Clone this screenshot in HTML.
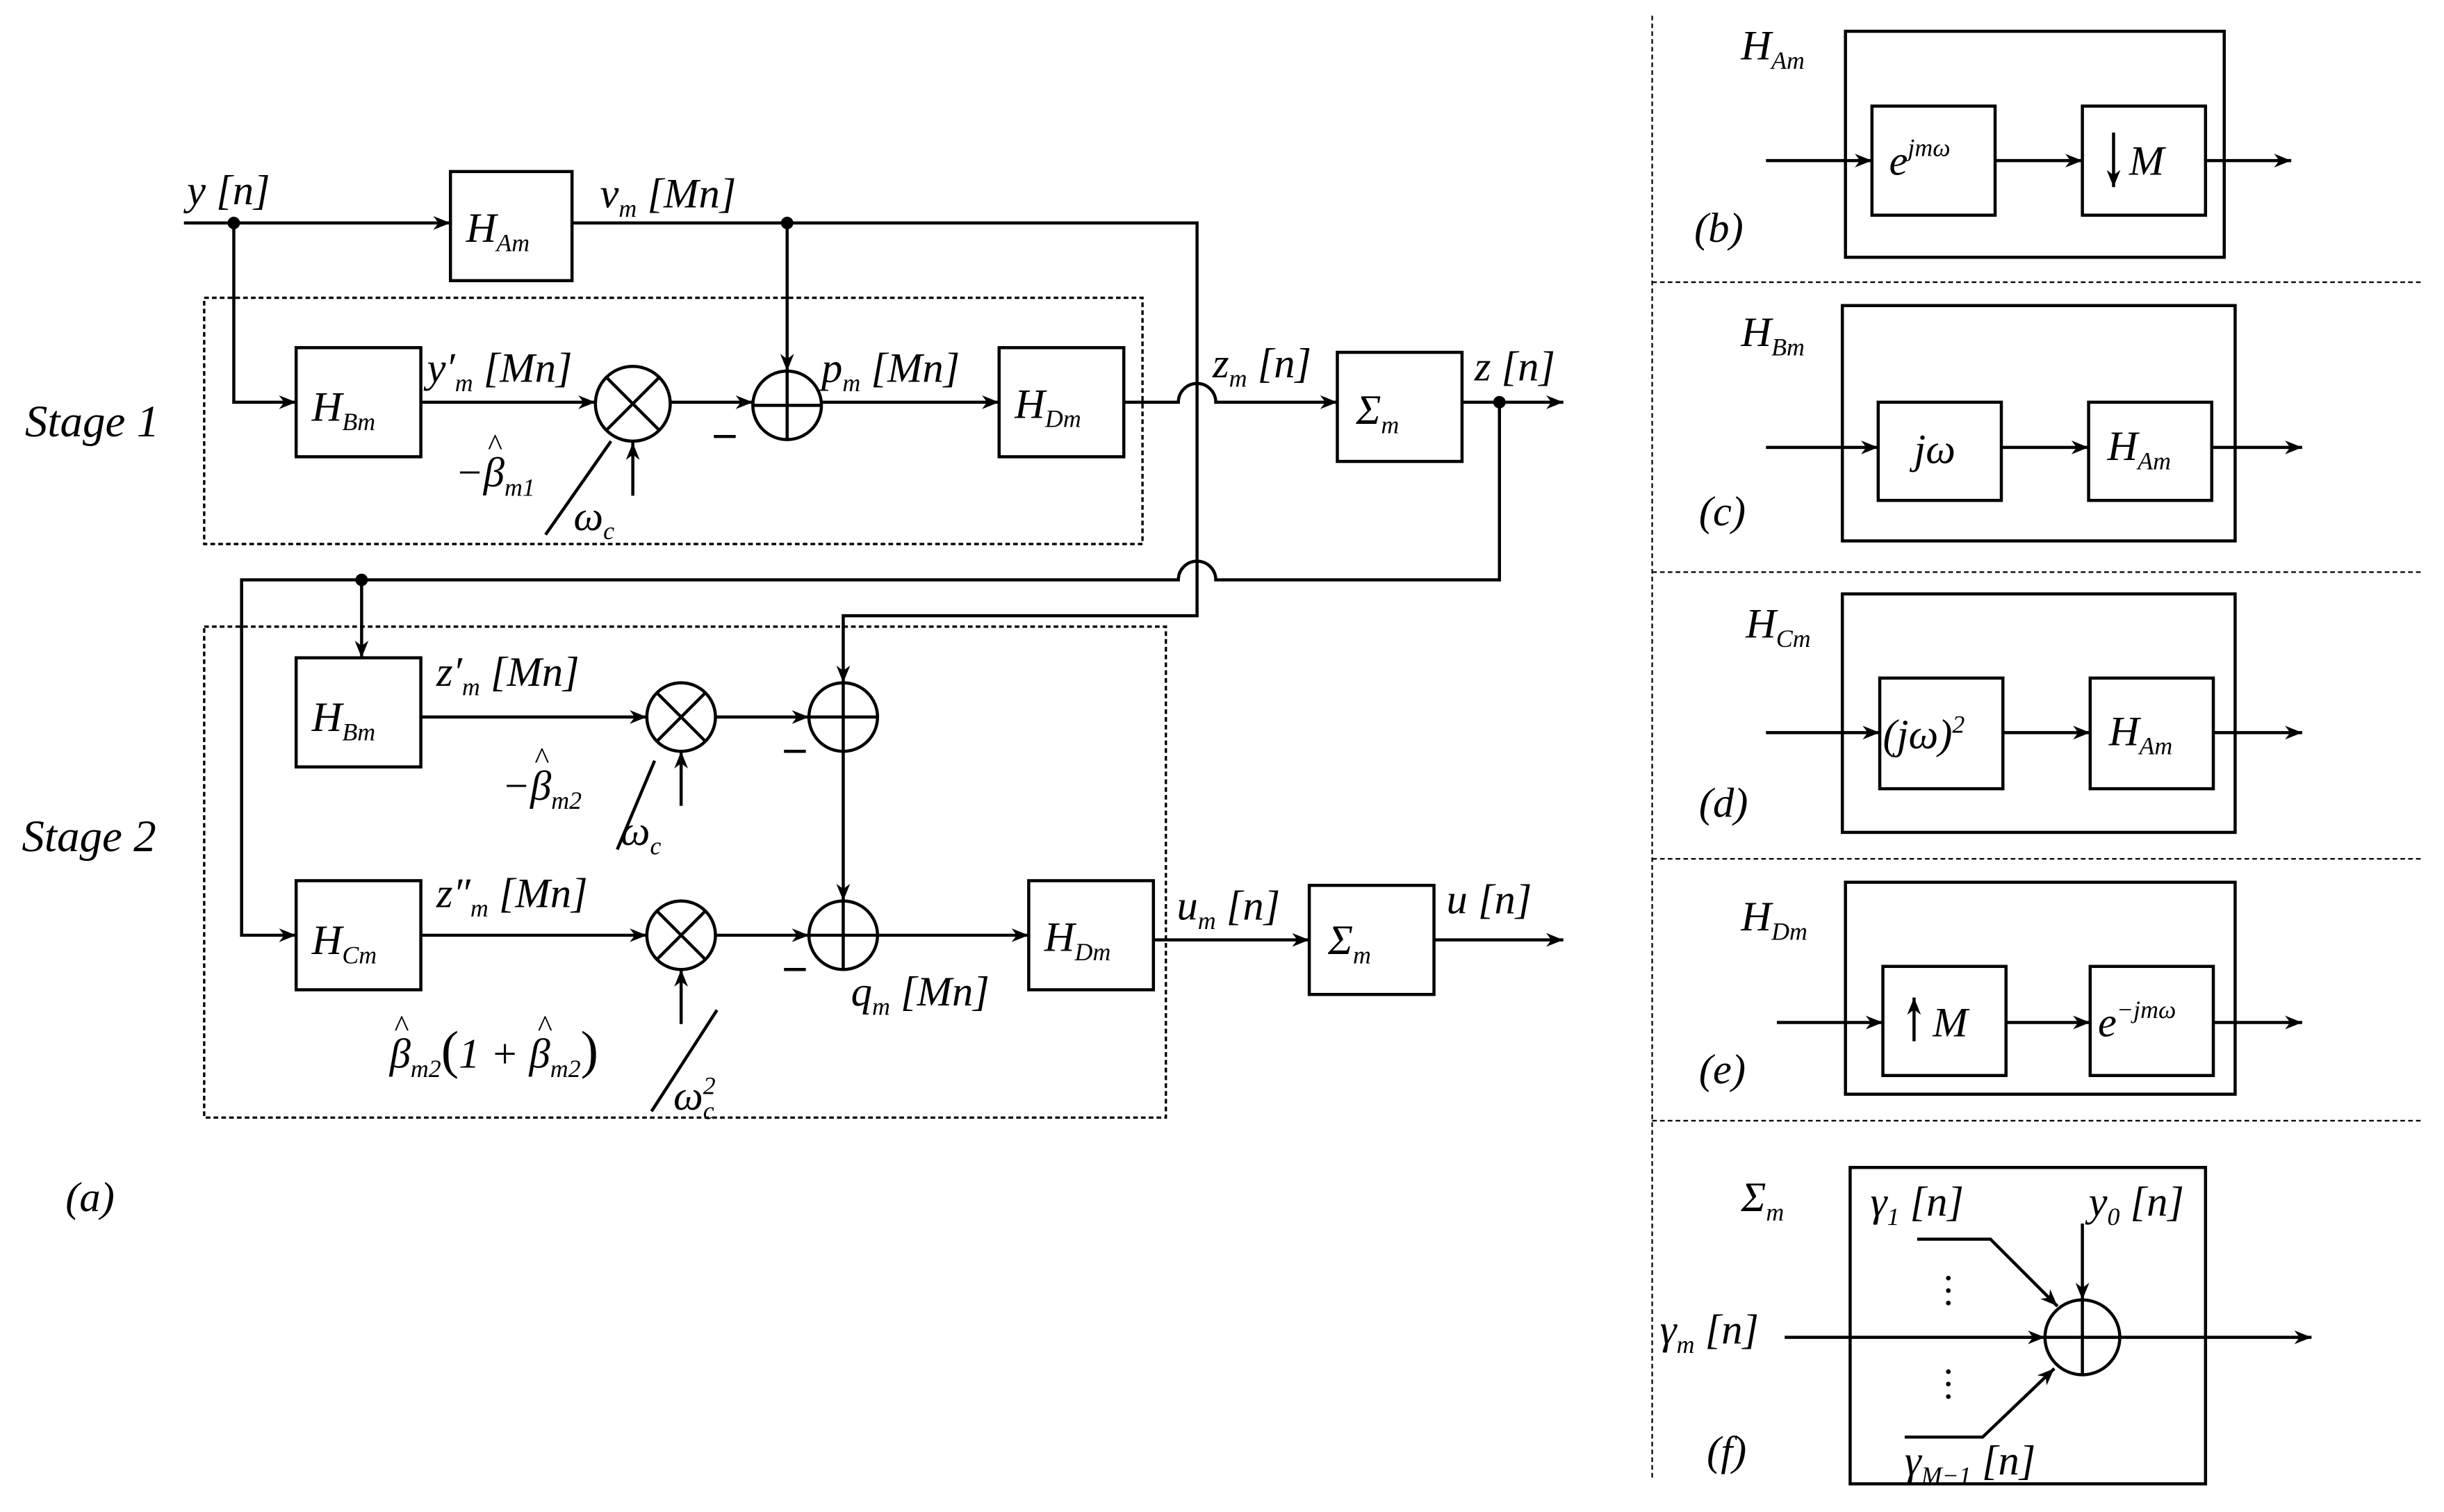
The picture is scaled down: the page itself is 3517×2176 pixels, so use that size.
<!DOCTYPE html>
<html><head><meta charset="utf-8"><style>
html,body{margin:0;padding:0;background:#fff;}
svg{display:block;}
text{font-family:"Liberation Serif","DejaVu Serif",serif;font-style:italic;fill:#000;}
.m{font-size:27px}
.sub{font-size:16px}
.h{font-size:20px;font-style:normal}
</style></head><body>
<svg width="3517" height="2176" viewBox="0 0 1568 970" xmlns="http://www.w3.org/2000/svg">
<defs>
<marker id="a" viewBox="0 0 10 10" refX="10" refY="5" markerWidth="11" markerHeight="11" markerUnits="userSpaceOnUse" orient="auto"><path d="M0,1 L10,5 L0,9 L3,5 z" fill="#000"/></marker>
</defs>
<g stroke="#000" stroke-width="2" fill="none">
<rect x="131" y="191" width="602" height="158" stroke-dasharray="3,2" stroke-width="1.5"/>
<rect x="131" y="402" width="617" height="315" stroke-dasharray="3,2" stroke-width="1.5"/>
<rect x="289" y="110" width="78" height="70"/>
<rect x="190" y="223" width="80" height="70"/>
<rect x="641" y="223" width="80" height="70"/>
<rect x="858" y="226" width="80" height="70"/>
<rect x="190" y="422" width="80" height="70"/>
<rect x="190" y="565" width="80" height="70"/>
<rect x="660" y="565" width="80" height="70"/>
<rect x="840" y="568" width="80" height="70"/>
<circle cx="406" cy="259" r="24"/>
<path d="M389,242 L423,276 M423,242 L389,276"/>
<circle cx="505" cy="260" r="22"/>
<path d="M483,260 H527 M505,238 V282"/>
<circle cx="437" cy="460" r="22"/>
<path d="M421,444 L453,476 M453,444 L421,476"/>
<circle cx="541" cy="460" r="22"/>
<path d="M519,460 H563 M541,438 V482"/>
<circle cx="437" cy="600" r="22"/>
<path d="M421,584 L453,616 M453,584 L421,616"/>
<circle cx="541" cy="600" r="22"/>
<path d="M519,600 H563 M541,578 V622"/>
<path d="M118,143 H289" marker-end="url(#a)"/>
<path d="M150,143 V258 H190" marker-end="url(#a)"/>
<path d="M367,143 H768 V395 H541 V438" marker-end="url(#a)"/>
<path d="M505,143 V238" marker-end="url(#a)"/>
<path d="M270,258 H382" marker-end="url(#a)"/>
<path d="M430,258 H483" marker-end="url(#a)"/>
<path d="M527,258 H641" marker-end="url(#a)"/>
<path d="M721,258 H756 A12,12 0 0 1 780,258 H858" marker-end="url(#a)"/>
<path d="M938,258 H1003" marker-end="url(#a)"/>
<path d="M406,318 V284" marker-end="url(#a)"/>
<path d="M350,343 L392,283"/>
<path d="M458,280 H472"/>
<path d="M962,258 V372 H780 A12,12 0 0 0 756,372 H155 V600 H190" marker-end="url(#a)"/>
<path d="M232,372 V422" marker-end="url(#a)"/>
<path d="M270,460 H415" marker-end="url(#a)"/>
<path d="M459,460 H519" marker-end="url(#a)"/>
<path d="M270,600 H415" marker-end="url(#a)"/>
<path d="M459,600 H519" marker-end="url(#a)"/>
<path d="M541,482 V578" marker-end="url(#a)"/>
<path d="M563,600 H660" marker-end="url(#a)"/>
<path d="M740,603 H840" marker-end="url(#a)"/>
<path d="M920,603 H1003" marker-end="url(#a)"/>
<path d="M437,517 V482" marker-end="url(#a)"/>
<path d="M437,657 V622" marker-end="url(#a)"/>
<path d="M396,545 L420,488"/>
<path d="M418,713 L460,648"/>
<path d="M503,482 H517 M503,622 H517"/>
</g>
<g fill="#000">
<circle cx="150" cy="143" r="4"/><circle cx="505" cy="143" r="4"/>
<circle cx="962" cy="258" r="4"/><circle cx="232" cy="372" r="4"/>
</g>
<g stroke="#000" stroke-width="1" stroke-dasharray="3,2" fill="none">
<path d="M1060,10 V950"/>
<path d="M1060,181 H1555 M1060,367 H1555 M1060,551 H1555 M1060,719 H1555"/>
</g>
<g stroke="#000" stroke-width="2" fill="none">
<rect x="1184" y="20" width="243" height="145"/>
<rect x="1201" y="68" width="79" height="70"/>
<rect x="1336" y="68" width="79" height="70"/>
<path d="M1133,103 H1201" marker-end="url(#a)"/><path d="M1280,103 H1336" marker-end="url(#a)"/><path d="M1415,103 H1470" marker-end="url(#a)"/>
<path d="M1356,85 V120" marker-end="url(#a)"/>
<rect x="1182" y="196" width="252" height="151"/>
<rect x="1205" y="258" width="79" height="63"/>
<rect x="1340" y="258" width="79" height="63"/>
<path d="M1133,287 H1205" marker-end="url(#a)"/><path d="M1284,287 H1340" marker-end="url(#a)"/><path d="M1419,287 H1477" marker-end="url(#a)"/>
<rect x="1182" y="381" width="252" height="153"/>
<rect x="1206" y="435" width="79" height="71"/>
<rect x="1341" y="435" width="79" height="71"/>
<path d="M1133,470 H1206" marker-end="url(#a)"/><path d="M1285,470 H1341" marker-end="url(#a)"/><path d="M1420,470 H1477" marker-end="url(#a)"/>
<rect x="1184" y="566" width="250" height="136"/>
<rect x="1208" y="620" width="79" height="70"/>
<rect x="1341" y="620" width="79" height="70"/>
<path d="M1140,656 H1208" marker-end="url(#a)"/><path d="M1287,656 H1341" marker-end="url(#a)"/><path d="M1420,656 H1477" marker-end="url(#a)"/>
<path d="M1228,668 V640" marker-end="url(#a)"/>
<rect x="1187" y="749" width="228" height="203"/>
<circle cx="1336" cy="858" r="24"/>
<path d="M1312,858 H1360 M1336,834 V882"/>
<path d="M1145,858 H1312" marker-end="url(#a)"/>
<path d="M1360,858 H1483" marker-end="url(#a)"/>
<path d="M1336,785 V834" marker-end="url(#a)"/>
<path d="M1230,795 H1277 L1320,838" marker-end="url(#a)"/>
<path d="M1222,922 H1272 L1318,878" marker-end="url(#a)"/>
</g>
<g fill="#000">
<circle cx="1250" cy="820" r="1.5"/><circle cx="1250" cy="828" r="1.5"/><circle cx="1250" cy="836" r="1.5"/>
<circle cx="1250" cy="880" r="1.5"/><circle cx="1250" cy="888" r="1.5"/><circle cx="1250" cy="896" r="1.5"/>
</g>
<text class="m" x="120" y="131">y [n]</text>
<text class="m" x="299" y="155">H<tspan class="sub" dy="6">Am</tspan></text>
<text class="m" x="385" y="133">v<tspan class="sub" dy="6">m</tspan><tspan dy="-6"> [Mn]</tspan></text>
<text class="m" x="200" y="270">H<tspan class="sub" dy="6">Bm</tspan></text>
<text class="m" x="274" y="245">y′<tspan class="sub" dy="6">m</tspan><tspan dy="-6"> [Mn]</tspan></text>
<text class="m" x="527" y="245">p<tspan class="sub" dy="6">m</tspan><tspan dy="-6"> [Mn]</tspan></text>
<text class="m" x="651" y="268">H<tspan class="sub" dy="6">Dm</tspan></text>
<text class="m" x="778" y="242">z<tspan class="sub" dy="6">m</tspan><tspan dy="-6"> [n]</tspan></text>
<text class="m" x="870" y="272">Σ<tspan class="sub" dy="6">m</tspan></text>
<text class="m" x="946" y="244">z [n]</text>
<text x="16" y="280" font-size="29">Stage  1</text>
<text class="m" x="292" y="312">−β<tspan class="sub" dy="6">m1</tspan></text>
<text class="h" x="313" y="292">^</text>
<text class="m" x="368" y="340">ω<tspan class="sub" dy="6">c</tspan></text>
<text class="m" x="200" y="469">H<tspan class="sub" dy="6">Bm</tspan></text>
<text class="m" x="280" y="440">z′<tspan class="sub" dy="6">m</tspan><tspan dy="-6"> [Mn]</tspan></text>
<text class="m" x="322" y="513">−β<tspan class="sub" dy="6">m2</tspan></text>
<text class="h" x="343" y="493">^</text>
<text class="m" x="398" y="542">ω<tspan class="sub" dy="6">c</tspan></text>
<text x="14" y="546" font-size="29">Stage  2</text>
<text class="m" x="200" y="612">H<tspan class="sub" dy="6">Cm</tspan></text>
<text class="m" x="280" y="582">z″<tspan class="sub" dy="6">m</tspan><tspan dy="-6"> [Mn]</tspan></text>
<text class="m" x="670" y="610">H<tspan class="sub" dy="6">Dm</tspan></text>
<text class="m" x="546" y="645">q<tspan class="sub" dy="6">m</tspan><tspan dy="-6"> [Mn]</tspan></text>
<text class="m" x="755" y="590">u<tspan class="sub" dy="6">m</tspan><tspan dy="-6"> [n]</tspan></text>
<text class="m" x="852" y="612">Σ<tspan class="sub" dy="6">m</tspan></text>
<text class="m" x="928" y="586">u [n]</text>
<text class="m" x="250" y="685">β<tspan class="sub" dy="6">m2</tspan><tspan dy="-6" font-size="34" font-style="normal">(</tspan>1 + β<tspan class="sub" dy="6">m2</tspan><tspan dy="-6" font-size="34" font-style="normal">)</tspan></text>
<text class="h" x="253" y="665">^</text>
<text class="h" x="345" y="665">^</text>
<text class="m" x="432" y="712">ω<tspan class="sub" dy="-10">2</tspan><tspan class="sub" dx="-8" dy="16">c</tspan></text>
<text class="m" x="42" y="777">(a)</text>
<text class="m" x="1117" y="38">H<tspan class="sub" dy="6">Am</tspan></text>
<text class="m" x="1212" y="112">e<tspan class="sub" dy="-12">jmω</tspan></text>
<text class="m" x="1366" y="112">M</text>
<text class="m" x="1087" y="155">(b)</text>
<text class="m" x="1117" y="222">H<tspan class="sub" dy="6">Bm</tspan></text>
<text class="m" x="1228" y="297">jω</text>
<text class="m" x="1352" y="295">H<tspan class="sub" dy="6">Am</tspan></text>
<text class="m" x="1090" y="337">(c)</text>
<text class="m" x="1120" y="409">H<tspan class="sub" dy="6">Cm</tspan></text>
<text class="m" x="1208" y="480">(jω)<tspan class="sub" dy="-10">2</tspan></text>
<text class="m" x="1353" y="478">H<tspan class="sub" dy="6">Am</tspan></text>
<text class="m" x="1090" y="524">(d)</text>
<text class="m" x="1117" y="597">H<tspan class="sub" dy="6">Dm</tspan></text>
<text class="m" x="1240" y="665">M</text>
<text class="m" x="1346" y="665">e<tspan class="sub" dy="-12">−jmω</tspan></text>
<text class="m" x="1090" y="695">(e)</text>
<text class="m" x="1117" y="777">Σ<tspan class="sub" dy="6">m</tspan></text>
<text class="m" x="1200" y="780">γ<tspan class="sub" dy="6">1</tspan><tspan dy="-6"> [n]</tspan></text>
<text class="m" x="1340" y="780">y<tspan class="sub" dy="6">0</tspan><tspan dy="-6"> [n]</tspan></text>
<text class="m" x="1065" y="862">γ<tspan class="sub" dy="6">m</tspan><tspan dy="-6"> [n]</tspan></text>
<text class="m" x="1222" y="946">γ<tspan class="sub" dy="6">M−1</tspan><tspan dy="-6"> [n]</tspan></text>
<text class="m" x="1095" y="940">(f)</text>
</svg>
</body></html>
